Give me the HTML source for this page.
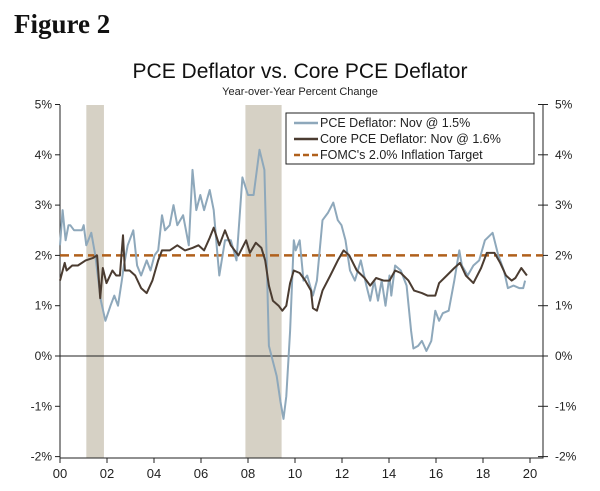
<!DOCTYPE html>
<html><head><meta charset="utf-8"><style>
body{margin:0;background:#fff;width:600px;height:491px;overflow:hidden}
svg{display:block;font-family:"Liberation Sans",sans-serif}
</style></head><body>
<svg id="c" width="600" height="491">
<text x="14" y="33" font-family="Liberation Serif,serif" font-weight="bold" font-size="27" fill="#111">Figure 2</text>
<text x="300" y="78" text-anchor="middle" font-size="21" fill="#111">PCE Deflator vs. Core PCE Deflator</text>
<text x="300" y="95" text-anchor="middle" font-size="11" fill="#222">Year-over-Year Percent Change</text>
<g id="plot"></g>
</svg>
<script>
const recessions=[[1.12,1.87],[7.89,9.43]];
const yTicks=[5,4,3,2,1,0,-1,-2];
const xTickYears=[0,2,4,6,8,10,12,14,16,18,20];
const xTickLabels=["00","02","04","06","08","10","12","14","16","18","20"];
const target=2.0;
const pceYears=[0,0.11,0.24,0.36,0.44,0.6,0.76,0.93,1.01,1.12,1.33,1.5,1.74,1.93,2.15,2.31,2.47,2.63,2.72,2.88,3.12,3.28,3.45,3.69,3.85,4.02,4.18,4.34,4.47,4.67,4.83,4.99,5.24,5.48,5.64,5.8,5.97,6.13,6.37,6.54,6.7,6.78,7.02,7.27,7.51,7.76,8.0,8.24,8.49,8.7,8.89,9.22,9.38,9.51,9.63,9.79,9.95,10.03,10.2,10.36,10.52,10.76,10.93,11.17,11.41,11.63,11.82,11.98,12.15,12.34,12.55,12.8,13.04,13.2,13.37,13.53,13.69,13.85,14.02,14.1,14.26,14.5,14.75,14.94,15.04,15.24,15.4,15.59,15.8,15.97,16.13,16.29,16.54,16.78,16.99,17.1,17.35,17.59,17.84,18.08,18.41,18.65,18.89,19.06,19.3,19.54,19.71,19.79];
const pceValues=[2.2,2.9,2.3,2.6,2.6,2.5,2.5,2.5,2.6,2.2,2.45,2.0,1.1,0.7,1.0,1.2,1.0,1.5,1.8,2.2,2.5,1.8,1.6,1.9,1.7,2.0,2.1,2.8,2.5,2.6,3.0,2.6,2.8,2.2,3.7,2.9,3.2,2.9,3.3,2.9,2.0,1.6,2.3,2.3,1.9,3.55,3.2,3.2,4.1,3.7,0.2,-0.4,-0.9,-1.25,-0.8,0.5,2.3,2.1,2.3,1.5,1.6,1.2,1.5,2.7,2.85,3.05,2.7,2.6,2.3,1.7,1.5,1.9,1.4,1.1,1.5,1.1,1.5,1.0,1.6,1.2,1.8,1.7,1.4,0.5,0.15,0.2,0.3,0.1,0.3,0.9,0.7,0.85,0.9,1.5,2.1,1.8,1.6,1.8,1.9,2.3,2.45,2.0,1.7,1.35,1.4,1.35,1.35,1.5];
const coreYears=[0,0.2,0.28,0.52,0.76,1.09,1.41,1.58,1.71,1.82,1.98,2.23,2.39,2.55,2.68,2.76,2.96,3.2,3.45,3.69,3.93,4.18,4.34,4.67,4.99,5.32,5.64,5.89,6.13,6.37,6.54,6.78,7.02,7.27,7.59,7.92,8.08,8.33,8.57,8.73,8.89,9.06,9.3,9.46,9.63,9.79,9.95,10.2,10.44,10.68,10.76,10.93,11.17,11.5,11.82,12.07,12.31,12.63,12.96,13.2,13.45,13.77,14.02,14.26,14.5,14.83,15.07,15.4,15.64,15.97,16.13,16.46,16.78,17.02,17.27,17.59,17.92,18.16,18.49,18.73,18.98,19.22,19.38,19.63,19.87];
const coreValues=[1.5,1.85,1.7,1.8,1.8,1.9,1.95,2.0,1.15,1.75,1.45,1.7,1.6,1.6,2.4,1.7,1.7,1.6,1.35,1.25,1.5,1.9,2.1,2.1,2.2,2.1,2.15,2.2,2.1,2.35,2.55,2.2,2.5,2.2,2.0,2.3,2.05,2.25,2.15,1.9,1.4,1.1,1.0,0.9,1.0,1.45,1.7,1.65,1.5,1.3,0.95,0.9,1.3,1.6,1.9,2.1,2.0,1.7,1.55,1.4,1.55,1.5,1.5,1.7,1.65,1.5,1.3,1.25,1.2,1.2,1.45,1.6,1.75,1.85,1.6,1.45,1.75,2.05,2.05,1.85,1.6,1.5,1.55,1.75,1.6];

const L=60,R=543,T=105,B=458;
const xs=y=>L+y*23.5;
const ys=v=>356-v*50.3;
const NS="http://www.w3.org/2000/svg";
const g=document.getElementById('plot');
function mk(tag,a){const e=document.createElementNS(NS,tag);for(const k in a)e.setAttribute(k,a[k]);g.appendChild(e);return e;}
recessions.forEach(r=>{
 const e=mk('rect',{x:xs(r[0]),y:T,width:xs(r[1])-xs(r[0]),height:B-T,fill:'#d6d1c5'});
 
 
});
let e=mk('line',{x1:L,x2:R,y1:ys(0),y2:ys(0),stroke:'#222','stroke-width':1});


e=mk('path',{d:`M${L},${T}V${B}H${R}V${T}`,fill:'none',stroke:'#222','stroke-width':1});


yTicks.forEach(v=>{
 const y=ys(v);
 mk('line',{x1:L-5,x2:L,y1:y,y2:y,stroke:'#222'});
 mk('line',{x1:R-5,x2:R+5,y1:y,y2:y,stroke:'#222'});
 let t=mk('text',{x:L-8,y:y+4,'text-anchor':'end','font-size':12,fill:'#222'});t.textContent=v+'%';
 
 
 t=mk('text',{x:R+12,y:y+4,'font-size':12,fill:'#222'});t.textContent=v+'%';
 
 
});
xTickYears.forEach((yr,i)=>{
 const x=xs(yr);
 mk('line',{x1:x,x2:x,y1:B,y2:B+5,stroke:'#222'});
 const t=mk('text',{x:x,y:B+20,'text-anchor':'middle','font-size':13,fill:'#222'});t.textContent=xTickLabels[i];
 
 
});
e=mk('line',{x1:L,x2:R,y1:ys(target),y2:ys(target),stroke:'#b0601c','stroke-width':2.5,'stroke-dasharray':'9,5'});


function line(xa,va,col,w,name){
 const d=xa.map((x,i)=>(i?'L':'M')+xs(x).toFixed(1)+','+ys(va[i]).toFixed(1)).join('');
 const p=mk('path',{d,fill:'none',stroke:col,'stroke-width':w,'stroke-linejoin':'round'});
 
 
}
line(pceYears,pceValues,'#8ea8bb',2,'pce-deflator-line');
line(coreYears,coreValues,'#4b3c31',2,'core-pce-deflator-line');
// legend
e=mk('rect',{x:286,y:113,width:248,height:51,fill:'#fff',stroke:'#222'});


const items=[['PCE Deflator: Nov @ 1.5%','#8ea8bb',''],['Core PCE Deflator: Nov @ 1.6%','#4b3c31',''],["FOMC's 2.0% Inflation Target",'#b0601c','6,3']];
items.forEach((it,i)=>{
 const y=127+i*16;
 mk('line',{x1:294,x2:318,y1:y-4,y2:y-4,stroke:it[1],'stroke-width':2.5,'stroke-dasharray':it[2]||'none'});
 const t=mk('text',{x:320,y:y,'font-size':12.5,fill:'#222'});t.textContent=it[0];
 
 
});
</script>
</body></html>
